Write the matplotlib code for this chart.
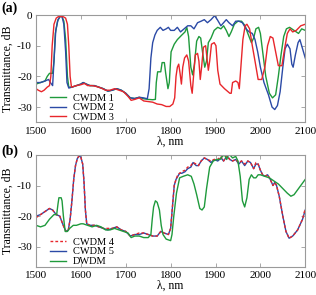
import numpy as np
import matplotlib
matplotlib.use("Agg")
import matplotlib.pyplot as plt

plt.rcParams['font.family'] = ['Liberation Serif', 'DejaVu Serif']
plt.rcParams['axes.unicode_minus'] = False

# ---- panel (a) ----
wl_c1 = [1500, 1510, 1520, 1525, 1530, 1537, 1540, 1543, 1548, 1553, 1557, 1562, 1566, 1570, 1573,
         1580, 1590, 1600, 1605, 1612, 1620, 1630, 1640, 1650, 1660, 1670, 1680, 1690, 1700, 1710,
         1720, 1730, 1740, 1750, 1760, 1766, 1768, 1771, 1778, 1781, 1786, 1789, 1794, 1797, 1801,
         1808, 1815, 1825, 1832, 1836, 1840, 1845, 1849, 1853, 1858, 1863, 1867, 1871, 1876, 1880,
         1884, 1890, 1897, 1905, 1912, 1918, 1924, 1930, 1935, 1942, 1950, 1958, 1966, 1972, 1980,
         1985, 1990, 1996, 2000, 2006, 2012, 2020, 2027, 2034, 2040, 2046, 2052, 2058, 2065, 2075,
         2085, 2092, 2100]
t_c1 = [-22.5, -22, -21.5, -20, -19, -19, -15, -6, -2, -0.5, -0.3, -2, -8, -20, -23.5,
        -23.5, -23, -22.5, -22, -22.5, -23, -23, -23.5, -24, -24.8, -24.5, -24, -24.5, -25.5, -27,
        -27.2, -26.8, -27.3, -27.5, -27.6, -27.5, -22, -18.5, -18.5, -15.5, -15.5, -19, -24, -22, -12,
        -9.5, -8, -6.5, -5.5, -4, -7, -17, -19.5, -16, -8.5, -7, -7.5, -12, -17, -15,
        -9, -7.5, -5, -4, -4.5, -3.5, -5, -7, -5.5, -3, -2, -2, -3.5, -6, -9,
        -7.5, -4.5, -4, -6, -13, -20, -25.5, -27, -26, -20, -13, -7, -4.5, -4, -5,
        -6, -4.5, -5]

wl_c2 = [1500, 1510, 1520, 1528, 1532, 1537, 1540, 1544, 1549, 1555, 1558, 1562, 1566, 1569, 1573,
         1580, 1590, 1600, 1605, 1612, 1620, 1630, 1640, 1650, 1660, 1670, 1680, 1690, 1700, 1710,
         1720, 1730, 1740, 1748, 1752, 1756, 1760, 1765, 1770, 1777, 1783, 1790, 1795, 1800, 1808,
         1815, 1822, 1830, 1838, 1845, 1852, 1860, 1868, 1875, 1882, 1890, 1898, 1904, 1912, 1918,
         1924, 1930, 1938, 1945, 1952, 1960, 1968, 1975, 1982, 1988, 1994, 2000, 2008, 2018, 2026,
         2032, 2038, 2044, 2050, 2055, 2060, 2066, 2070, 2073, 2078, 2084, 2088, 2094, 2100]
t_c2 = [-22, -22, -21.5, -21, -22, -23, -15, -5, -1.5, -0.3, -0.5, -3, -12, -22, -23.8,
        -23.5, -23, -22.5, -22, -22.5, -23, -23, -23.5, -24, -24.8, -24.5, -24, -24.5, -25.5, -27,
        -27.2, -26.8, -27, -27.3, -24, -14, -9, -6.5, -5, -4, -5, -4.5, -4, -5, -5,
        -4, -5.5, -4.5, -3.5, -3.5, -4.5, -2.5, -2, -1.5, -2.5, -1.5, -0.2, -1.5, -3.5, -2.5,
        -1.5, -2.5, -3.5, -2, -2, -2.5, -4.5, -5.5, -6, -8, -12, -17, -22, -26, -30,
        -30.8, -29.5, -25, -17, -11, -9.5, -11, -16, -17, -13, -9, -8, -11, -14]

wl_c3 = [1500, 1505, 1512, 1518, 1525, 1530, 1533, 1536, 1540, 1545, 1550, 1560, 1566, 1570, 1573,
         1576, 1579, 1590, 1600, 1608, 1615, 1625, 1635, 1645, 1655, 1665, 1675, 1685, 1695, 1705,
         1712, 1720, 1730, 1740, 1750, 1760, 1770, 1780, 1790, 1798, 1805, 1809, 1812, 1815, 1818,
         1821, 1824, 1827, 1831, 1836, 1840, 1845, 1848, 1851, 1855, 1860, 1863, 1866, 1869, 1873,
         1878, 1881, 1884, 1887, 1891, 1897, 1901, 1905, 1910, 1920, 1932, 1935, 1938, 1945, 1950,
         1953, 1957, 1961, 1966, 1970, 1976, 1982, 1988, 1995, 2003, 2010, 2016, 2022, 2028, 2034,
         2040, 2048, 2054, 2060, 2066, 2072, 2080, 2090, 2100]
t_c3 = [-24, -24.5, -25, -24.5, -23.5, -23, -20, -10, -3, -1, -0.5, -0.5, -1, -3, -10,
        -20, -23.5, -23, -22.7, -22.3, -23, -23, -23.3, -23.8, -24.5, -24.5, -24, -24.5, -25, -26.5,
        -27.8, -27.5, -27, -28, -28.2, -28.4, -29, -29.2, -29.8, -29.8, -29, -27, -20, -17, -16,
        -19, -22.5, -17, -14, -13, -15, -23, -25.5, -20, -13, -12.5, -15, -21, -17, -10.5,
        -10, -14, -18, -15, -9.5, -9, -10, -18, -22.5, -24, -25.5, -25.5, -22, -21.5, -22,
        -24, -16, -8, -3.5, -3, -4.5, -10, -15, -21, -21, -17, -10, -7, -7.5, -12,
        -16.5, -16.5, -11, -6, -4.5, -5.5, -5, -3.5, -3]

# ---- panel (b) ----
wl_c5 = [1500, 1510, 1520, 1530, 1537, 1545, 1553, 1558, 1562, 1567, 1572, 1576, 1580, 1584, 1588,
         1592, 1596, 1600, 1604, 1607, 1610, 1613, 1620, 1630, 1640, 1650, 1660, 1670, 1680, 1690,
         1700, 1710, 1720, 1730, 1740, 1750, 1760, 1770, 1778, 1785, 1795, 1800, 1804, 1808, 1812,
         1816, 1820, 1825, 1832, 1838, 1845, 1850, 1857, 1862, 1868, 1875, 1882, 1890, 1897, 1905,
         1912, 1918, 1925, 1932, 1938, 1945, 1952, 1958, 1965, 1972, 1978, 1985, 1990, 1995, 2000,
         2005, 2010, 2016, 2022, 2028, 2032, 2036, 2042, 2050, 2057, 2064, 2072, 2083, 2094, 2100]
t_c5 = [-20, -19.5, -18.5, -17.5, -18, -19.5, -20, -22, -23.5, -25, -24.5, -21, -15, -8, -3.5,
        -1.2, -0.3, -0.8, -3, -9, -18, -22.5, -23, -23, -23.5, -24, -24.5, -24, -23.5, -24.5,
        -25, -26.5, -26, -26, -25.5, -26, -26.5, -26.5, -25, -25.5, -26, -24, -17, -10, -8,
        -7, -6, -6, -5.5, -4.5, -4, -2.5, -3.5, -3.5, -2, -1, -1.5, -2.5, -1.5, -2,
        -1, -2, -0.5, -1.5, -2, -1.5, -3, -2, -3.5, -2, -2.5, -4.5, -3, -3, -5,
        -6.5, -7, -6.5, -8, -10, -9, -10, -13.5, -20, -25, -27.2, -26.5, -24.5, -21, -18]

# CWDM 4 sits almost on top of CWDM 5
wl_c4 = wl_c5
t_c4 = [-20.5, -19.5, -18.5, -17.5, -18, -19.5, -20, -22, -23.5, -25, -24.5, -21, -15, -8, -3.5,
        -1.2, -0.3, -0.8, -3, -9, -18, -22.5, -23, -23, -23.5, -24, -24, -24, -23.5, -24.5,
        -25, -26.5, -26, -25.5, -25.5, -26, -26.5, -26.5, -25, -25.5, -26, -24, -17, -10, -8,
        -6.5, -6, -5.5, -5, -4, -3.5, -2.5, -3, -3.5, -2, -1, -1.5, -2, -1.5, -1.5,
        -0.5, -2, -0.2, -1.5, -2, -1.5, -2.5, -2, -3, -2, -2.5, -4.5, -2.5, -3, -5,
        -6.5, -7, -6.5, -8, -10, -9, -10, -13.5, -20, -25, -27.2, -26.5, -24.5, -21, -17.5]

wl_dw = [1500, 1510, 1520, 1530, 1540, 1546, 1549, 1551, 1556, 1558, 1561, 1565, 1570, 1575, 1583,
         1590, 1600, 1605, 1615, 1625, 1635, 1645, 1655, 1665, 1675, 1685, 1695, 1705, 1712, 1720,
         1730, 1740, 1750, 1756, 1759, 1762, 1766, 1770, 1775, 1779, 1783, 1790, 1800, 1803, 1807,
         1813, 1820, 1828, 1838, 1846, 1852, 1858, 1865, 1870, 1875, 1880, 1887, 1895, 1903, 1910,
         1915, 1920, 1925, 1928, 1932, 1938, 1945, 1950, 1955, 1960, 1965, 1970, 1975, 1980, 1985,
         1990, 1995, 2000, 2010, 2020, 2030, 2040, 2050, 2060, 2068, 2075, 2085, 2095, 2100]
t_dw = [-23, -23.5, -23, -21, -19.5, -19.5, -16, -14, -14, -15, -20, -25, -25, -24, -23,
        -23, -22.5, -22.5, -23, -23.5, -23, -23.5, -24.5, -24.5, -24, -24.5, -25, -25.5, -27, -26.5,
        -26.5, -27, -27, -26, -21, -17, -15, -15.5, -18, -23, -26, -27.5, -28, -26, -20,
        -12.5, -7.5, -7, -6.5, -7, -9.5, -13, -17.5, -18, -17, -11, -4, -2, -1.5, -1.5,
        -0.5, 0, -1.5, -0.3, 0, -1, -0.5, -2, -7, -15, -17, -14, -8, -6.5, -7.5,
        -7.5, -6.5, -6.5, -7, -7.5, -8.5, -9.5, -11, -12.5, -13.5, -13, -11, -9, -8]

GREEN = '#1f9a3c'
BLUE = '#2b4aa6'
RED = '#e8262b'
FRAME = '#9a9a9a'


def style_axes(ax, ylo):
    ax.set_xlim(1500, 2100)
    ax.set_ylim(ylo, 0)
    ax.set_xticks(np.arange(1500, 2101, 100))
    ax.set_yticks([0, -10, -20, -30])
    ax.tick_params(direction='in', length=3, width=0.6, color=FRAME,
                   top=True, right=True, labelsize=8, pad=3)
    for s in ax.spines.values():
        s.set_color(FRAME)
        s.set_linewidth(0.8)
    ax.set_xlabel('λ, nm', fontsize=8.5, labelpad=0)
    ax.set_ylabel('Transmittance, dB', fontsize=8.5, labelpad=2)


fig = plt.figure(figsize=(3.16, 2.95), dpi=100)
ax1 = fig.add_axes([0.114, 0.585, 0.852, 0.364])
ax2 = fig.add_axes([0.114, 0.096, 0.852, 0.379])

lw = 1.0
l1, = ax1.plot(wl_c1, t_c1, color=GREEN, lw=lw, label='CWDM 1')
l2, = ax1.plot(wl_c2, t_c2, color=BLUE, lw=lw, label='CWDM 2')
l3, = ax1.plot(wl_c3, t_c3, color=RED, lw=lw, label='CWDM 3')
style_axes(ax1, -35)
ax1.legend(handles=[l1, l2, l3], loc='lower left', bbox_to_anchor=(0.02, -0.075),
           frameon=False, fontsize=7.5, handlelength=1.6, handletextpad=0.6,
           labelspacing=0.05, borderpad=0.3)

b5, = ax2.plot(wl_c5, t_c5, color=BLUE, lw=lw, label='CWDM 5')
b4, = ax2.plot(wl_c4, t_c4, color=RED, lw=lw, ls=(0, (2, 1.5)), label='CWDM 4')
b6, = ax2.plot(wl_dw, t_dw, color=GREEN, lw=lw, label='DWDM')
style_axes(ax2, -36.5)
ax2.legend(handles=[b4, b5, b6], loc='lower left', bbox_to_anchor=(0.02, -0.07),
           frameon=False, fontsize=7.5, handlelength=1.6, handletextpad=0.6,
           labelspacing=0.05, borderpad=0.3)

fig.text(0.005, 0.995, '(a)', fontsize=10, fontweight='bold', va='top', ha='left')
fig.text(0.005, 0.51, '(b)', fontsize=10, fontweight='bold', va='top', ha='left')

fig.savefig('out.png', dpi=100)
